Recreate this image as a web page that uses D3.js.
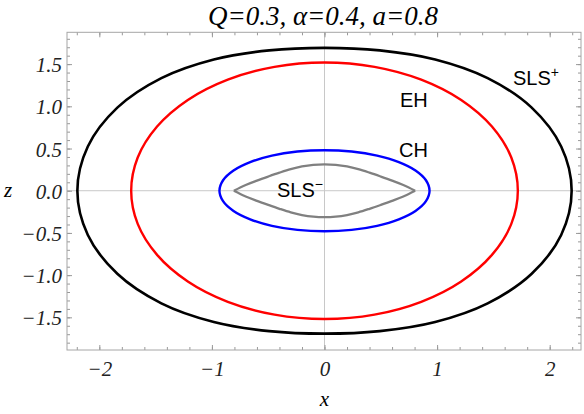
<!DOCTYPE html>
<html>
<head>
<meta charset="utf-8">
<script src="https://cdn.jsdelivr.net/npm/d3@7"></script>
<style>
  body { margin: 0; background: #fff; }
  svg { display: block; }
  .tick text { font-family: "Liberation Serif", serif; font-style: italic; font-size: 21px; fill: #222; }
  .lbl { font-family: "Liberation Sans", Arial, sans-serif; font-size: 20px; fill: #000; }
</style>
</head>
<body>
<svg id="main-svg" width="584" height="414"></svg>
<script>
// curve outlines, [x, z]
var slsPlus = [
    [0, 1.693], [0.491, 1.663], [0.983, 1.555], [1.449, 1.334], [1.840, 0.984], [2.102, 0.524], [2.195, 0],
    [2.102, -0.524], [1.840, -0.984], [1.449, -1.334], [0.983, -1.555], [0.491, -1.663], [0, -1.693],
    [-0.491, -1.663], [-0.983, -1.555], [-1.449, -1.334], [-1.840, -0.984], [-2.102, -0.524], [-2.195, 0],
    [-2.102, 0.524], [-1.840, 0.984], [-1.449, 1.334], [-0.983, 1.555], [-0.491, 1.663]
];
var eh = [
    [0, 1.520], [0.444, 1.468], [0.859, 1.316], [1.214, 1.075], [1.487, 0.760], [1.659, 0.393], [1.717, 0],
    [1.659, -0.393], [1.487, -0.760], [1.214, -1.075], [0.859, -1.316], [0.444, -1.468], [0, -1.520],
    [-0.444, -1.468], [-0.859, -1.316], [-1.214, -1.075], [-1.487, -0.760], [-1.659, -0.393], [-1.717, 0],
    [-1.659, 0.393], [-1.487, 0.760], [-1.214, 1.075], [-0.859, 1.316], [-0.444, 1.468]
];
var ch = [
    [0, 0.480], [0.241, 0.464], [0.467, 0.416], [0.660, 0.339], [0.808, 0.240], [0.901, 0.124], [0.933, 0],
    [0.901, -0.124], [0.808, -0.240], [0.660, -0.339], [0.467, -0.416], [0.241, -0.464], [0, -0.480],
    [-0.241, -0.464], [-0.467, -0.416], [-0.660, -0.339], [-0.808, -0.240], [-0.901, -0.124], [-0.933, 0],
    [-0.901, 0.124], [-0.808, 0.240], [-0.660, 0.339], [-0.467, 0.416], [-0.241, 0.464]
];
var slsMinusTop = [
    [-0.805, 0], [-0.70, 0.068], [-0.60, 0.120], [-0.50, 0.168], [-0.40, 0.214], [-0.30, 0.256], [-0.20, 0.288],
    [-0.10, 0.307], [0, 0.313], [0.10, 0.307], [0.20, 0.288], [0.30, 0.256], [0.40, 0.214], [0.50, 0.168],
    [0.60, 0.120], [0.70, 0.068], [0.805, 0]
];
var slsMinusBot = [
    [-0.805, 0], [-0.70, -0.068], [-0.60, -0.120], [-0.50, -0.168], [-0.40, -0.214], [-0.30, -0.256], [-0.20, -0.288],
    [-0.10, -0.307], [0, -0.313], [0.10, -0.307], [0.20, -0.288], [0.30, -0.256], [0.40, -0.214], [0.50, -0.168],
    [0.60, -0.120], [0.70, -0.068], [0.805, 0]
];

var xTicks = [-2, -1, 0, 1, 2];
var zTicks = [-1.5, -1.0, -0.5, 0.0, 0.5, 1.0, 1.5];

// curve labels: text, superscript, x, z (baseline)
var labels = [
    ['SLS', '+', 1.674, 1.252],
    ['EH', '', 0.670, 0.992],
    ['CH', '', 0.662, 0.399],
    ['SLS', '\u2212', -0.422, -0.075]
];

var svg = d3.select('#main-svg');
var pl = 67, pr = 581, pt = 32.3, pb = 350;

var x = d3.scaleLinear().domain([-2.287, 2.278]).range([pl, pr]);
var y = d3.scaleLinear().domain([-1.887, 1.877]).range([pb, pt]);

var xMinor = d3.range(-22, 23, 2).map(function(d) { return d/10; });
var zMinor = d3.range(-18, 19).map(function(d) { return d/10; });

// zero lines
svg.append('line').attr('x1', x(0)).attr('x2', x(0)).attr('y1', pt).attr('y2', pb)
    .attr('stroke', '#c8c8c8').attr('stroke-width', 1);
svg.append('line').attr('x1', pl).attr('x2', pr).attr('y1', y(0)).attr('y2', y(0))
    .attr('stroke', '#c8c8c8').attr('stroke-width', 1);

function styleAxis(g) {
    g.select('.domain').remove();
    g.selectAll('line').attr('stroke', '#999');
}

var fmtZ = d3.format('.1f');

// major ticks with labels
svg.append('g').attr('transform', 'translate(0,' + pb + ')')
    .call(d3.axisBottom(x).tickValues(xTicks).tickSize(-5).tickPadding(11).tickFormat(d3.format('d')))
    .call(styleAxis);
svg.append('g').attr('transform', 'translate(' + pl + ',0)')
    .call(d3.axisLeft(y).tickValues(zTicks).tickSize(-5).tickPadding(5).tickFormat(fmtZ))
    .call(styleAxis)
    .selectAll('text').attr('dy', '0.36em');
svg.append('g').attr('transform', 'translate(0,' + pt + ')')
    .call(d3.axisTop(x).tickValues(xTicks).tickSize(-5).tickFormat(''))
    .call(styleAxis);
svg.append('g').attr('transform', 'translate(' + pr + ',0)')
    .call(d3.axisRight(y).tickValues(zTicks).tickSize(-5).tickFormat(''))
    .call(styleAxis);

// minor ticks
svg.append('g').attr('transform', 'translate(0,' + pb + ')')
    .call(d3.axisBottom(x).tickValues(xMinor).tickSize(-3).tickFormat('')).call(styleAxis);
svg.append('g').attr('transform', 'translate(0,' + pt + ')')
    .call(d3.axisTop(x).tickValues(xMinor).tickSize(-3).tickFormat('')).call(styleAxis);
svg.append('g').attr('transform', 'translate(' + pl + ',0)')
    .call(d3.axisLeft(y).tickValues(zMinor).tickSize(-3).tickFormat('')).call(styleAxis);
svg.append('g').attr('transform', 'translate(' + pr + ',0)')
    .call(d3.axisRight(y).tickValues(zMinor).tickSize(-3).tickFormat('')).call(styleAxis);

// frame
svg.append('rect').attr('x', pl).attr('y', pt).attr('width', pr-pl).attr('height', pb-pt)
    .attr('fill', 'none').attr('stroke', '#a6a6a6').attr('stroke-width', 1);

// curves
var lineClosed = d3.line().x(function(d) { return x(d[0]); }).y(function(d) { return y(d[1]); })
    .curve(d3.curveCatmullRomClosed);
var lineOpen = d3.line().x(function(d) { return x(d[0]); }).y(function(d) { return y(d[1]); })
    .curve(d3.curveMonotoneX);

svg.append('path').attr('d', lineClosed(slsPlus)).attr('fill', 'none').attr('stroke', '#000').attr('stroke-width', 2.6);
svg.append('path').attr('d', lineClosed(eh)).attr('fill', 'none').attr('stroke', '#ff0000').attr('stroke-width', 2.4);
svg.append('path').attr('d', lineClosed(ch)).attr('fill', 'none').attr('stroke', '#0000ff').attr('stroke-width', 2.4);
[slsMinusTop, slsMinusBot].forEach(function(c) {
    svg.append('path').attr('d', lineOpen(c)).attr('fill', 'none').attr('stroke', '#808080')
        .attr('stroke-width', 2.3).attr('stroke-linejoin', 'miter');
});

// curve labels
labels.forEach(function(l) {
    var t = svg.append('text').attr('class', 'lbl').attr('x', x(l[2])).attr('y', y(l[3])).text(l[0]);
    if (l[1]) t.append('tspan').attr('dy', -8).attr('font-size', 14).text(l[1]);
});

// axis titles and plot title
svg.append('text').attr('x', 4).attr('y', 197)
    .style('font-family', '"Liberation Serif", serif').style('font-style', 'italic').style('font-size', '21px')
    .text('z');
svg.append('text').attr('x', x(0)).attr('y', 406).attr('text-anchor', 'middle')
    .style('font-family', '"Liberation Serif", serif').style('font-style', 'italic').style('font-size', '21px')
    .text('x');
svg.append('text').attr('x', 323).attr('y', 25).attr('text-anchor', 'middle')
    .style('font-family', '"Liberation Serif", serif').style('font-style', 'italic').style('font-size', '27px')
    .text('Q=0.3, \u03b1=0.4, a=0.8');
</script>
</body>
</html>
